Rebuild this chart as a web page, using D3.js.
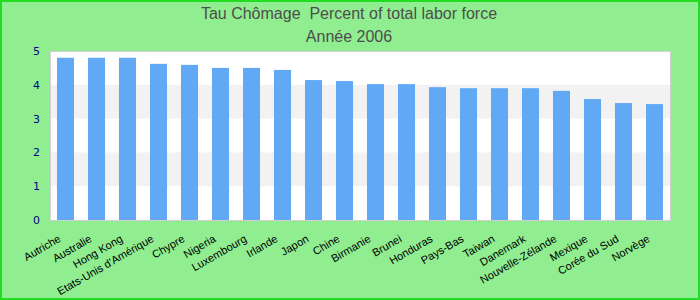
<!DOCTYPE html>
<html>
<head>
<meta charset="utf-8">
<script src="https://cdn.jsdelivr.net/npm/d3@7"></script>
<style>
  body { margin: 0; }
  svg { display: block; }
  .title { white-space: pre; }
</style>
</head>
<body>
<div id="chart"></div>
<script>
  var countries = ["Autriche", "Australie", "Hong Kong", "Etats-Unis d'Amérique", "Chypre",
    "Nigeria", "Luxembourg", "Irlande", "Japon", "Chine", "Birmanie", "Brunei", "Honduras",
    "Pays-Bas", "Taiwan", "Danemark", "Nouvelle-Zélande", "Mexique", "Corée du Sud", "Norvège"];
  var rates = [4.8, 4.8, 4.8, 4.62, 4.59, 4.5, 4.5, 4.44, 4.14, 4.11, 4.02, 4.02, 3.93,
    3.9, 3.9, 3.9, 3.82, 3.58, 3.46, 3.43];
  var yTicks = [0, 1, 2, 3, 4, 5];
  var titleLines = ["Tau Chômage  Percent of total labor force", "Année 2006"];

  var width = 700,
    height = 300;
  var plotLeft = 50, plotRight = 670, plotTop = 51, plotBottom = 220;

  var svg = d3.select("#chart")
    .append("svg")
    .attr("width", width)
    .attr("height", height)

  // background + green frame
  svg.append("rect")
    .attr("x", 1).attr("y", 1)
    .attr("width", width - 2).attr("height", height - 2)
    .attr("fill", "#90ee90")
    .attr("stroke", "#22dd22")
    .attr("stroke-width", 2)

  svg.selectAll(".title")
    .data(titleLines)
    .enter().append("text")
    .attr("class", "title")
    .attr("x", 349)
    .attr("y", function(d, i) { return 19 + i * 23 })
    .attr("text-anchor", "middle")
    .attr("font-family", "Liberation Sans, Arial, sans-serif")
    .attr("font-size", 16)
    .attr("fill", "#4d4d4d")
    .text(function(d) { return d })

  var x = d3.scaleBand().domain(countries).range([plotLeft, plotRight]).paddingInner(0.45).paddingOuter(0.225)
  var y = d3.scaleLinear().domain([0, 5]).range([plotBottom, plotTop])

  // plot area
  svg.append("rect")
    .attr("x", plotLeft).attr("y", plotTop)
    .attr("width", plotRight - plotLeft).attr("height", plotBottom - plotTop)
    .attr("fill", "#fff")

  // alternating bands
  svg.selectAll(".band")
    .data([1, 3])
    .enter().append("rect")
    .attr("class", "band")
    .attr("x", plotLeft)
    .attr("width", plotRight - plotLeft)
    .attr("y", function(d) { return y(d + 1) })
    .attr("height", function(d) { return y(d) - y(d + 1) })
    .attr("fill", "#f2f2f2")

  svg.selectAll(".bar")
    .data(rates)
    .enter().append("rect")
    .attr("class", "bar")
    .attr("x", function(d, i) { return x(countries[i]) })
    .attr("width", x.bandwidth())
    .attr("y", function(d) { return y(d) })
    .attr("height", function(d) { return y(0) - y(d) })
    .attr("fill", "#61a9f5")

  svg.append("rect")
    .attr("x", plotLeft + 0.5).attr("y", plotTop + 0.5)
    .attr("width", plotRight - plotLeft).attr("height", plotBottom - plotTop)
    .attr("fill", "none")
    .attr("stroke", "#d0d0d0")

  // y axis labels
  svg.selectAll(".ytick")
    .data(yTicks)
    .enter().append("text")
    .attr("class", "ytick")
    .attr("x", 40)
    .attr("y", function(d) { return y(d) + 4 })
    .attr("text-anchor", "end")
    .attr("font-family", "DejaVu Sans, Verdana, sans-serif")
    .attr("font-size", 11)
    .attr("fill", "#00008b")
    .text(function(d) { return d })

  // x labels, rotated
  svg.selectAll(".xlab")
    .data(countries)
    .enter().append("text")
    .attr("class", "xlab")
    .attr("transform", function(d) {
      return "translate(" + (x(d) + x.bandwidth() / 2 - 4) + "," + (plotBottom + 21) + ") rotate(-30)"
    })
    .attr("text-anchor", "end")
    .attr("font-family", "Liberation Sans, Arial, sans-serif")
    .attr("font-size", 11)
    .attr("fill", "#000")
    .text(function(d) { return d })
</script>
</body>
</html>
